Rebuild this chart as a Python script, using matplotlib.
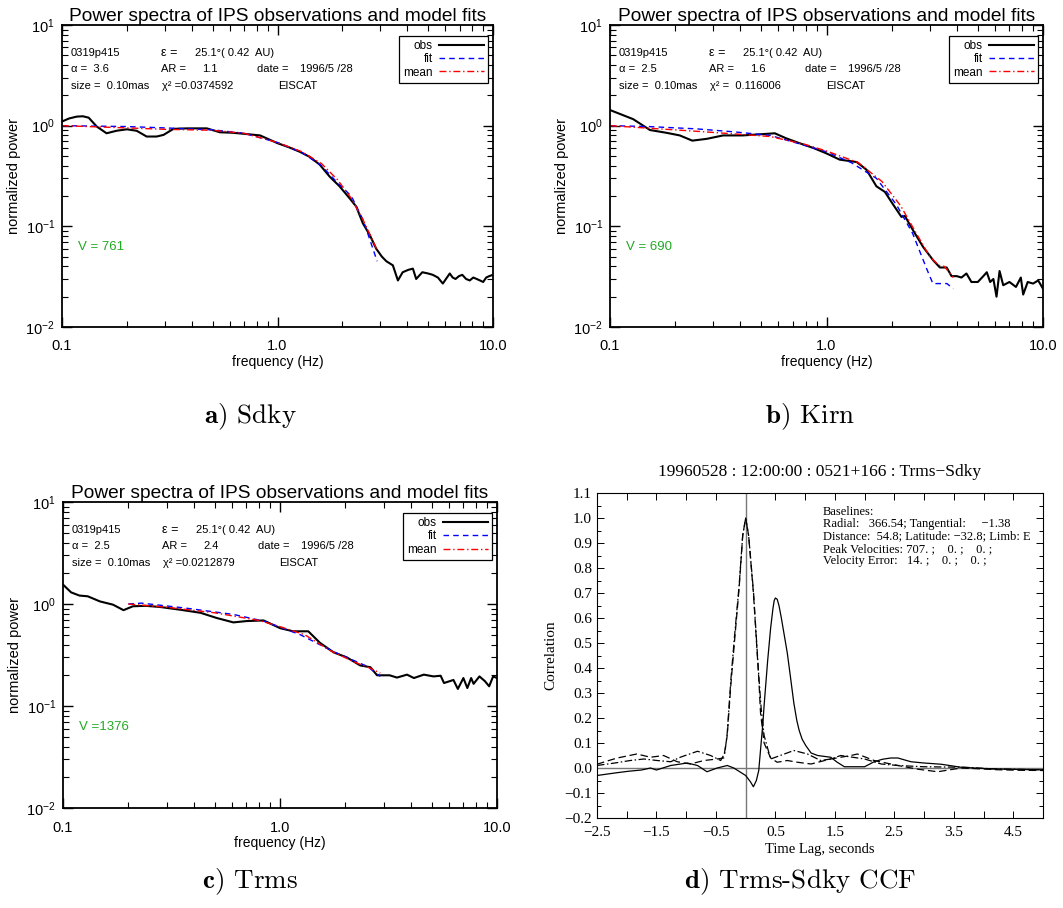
import matplotlib
matplotlib.use("Agg")
import matplotlib.pyplot as plt
from matplotlib.ticker import MultipleLocator, FixedLocator, NullFormatter, LogLocator

plt.rcParams['font.family'] = ['Liberation Sans', 'DejaVu Sans']
plt.rcParams['mathtext.fontset'] = 'cm'

# ---- power spectra data ----
fa_obs = [0.100, 0.108, 0.117, 0.125, 0.133, 0.145, 0.161, 0.179, 0.200, 0.222,
          0.247, 0.275, 0.296, 0.329, 0.380, 0.470, 0.540, 0.620, 0.700, 0.830,
          1.00, 1.13, 1.27, 1.41, 1.57, 1.75, 1.94, 2.16, 2.32, 2.49,
          2.68, 2.87, 3.05, 3.20, 3.43, 3.62, 3.81, 4.05, 4.25, 4.40,
          4.70, 5.00, 5.25, 5.55, 5.85, 6.05, 6.30, 6.50, 6.70, 6.95,
          7.20, 7.50, 7.80, 8.10, 8.40, 8.70, 9.00, 9.30, 9.60, 10.0]
pa_obs = [1.10, 1.18, 1.23, 1.24, 1.20, 0.98, 0.84, 0.89, 0.92, 0.89,
          0.78, 0.78, 0.81, 0.93, 0.94, 0.94, 0.86, 0.85, 0.83, 0.80,
          0.67, 0.61, 0.55, 0.49, 0.41, 0.31, 0.25, 0.19, 0.157, 0.107,
          0.082, 0.060, 0.050, 0.045, 0.041, 0.029, 0.035, 0.037, 0.038, 0.030,
          0.035, 0.034, 0.033, 0.031, 0.027, 0.030, 0.034, 0.031, 0.030, 0.032,
          0.033, 0.030, 0.029, 0.031, 0.030, 0.029, 0.028, 0.031, 0.032, 0.033]
fa_fit = [0.1, 0.2, 0.3, 0.5, 0.7, 1.0, 1.3, 1.6, 1.9, 2.2, 2.5, 2.9]
pa_fit = [1.0, 0.98, 0.95, 0.91, 0.84, 0.68, 0.54, 0.40, 0.27, 0.20, 0.115, 0.045]
fa_mean = [0.1, 0.2, 0.3, 0.5, 0.7, 1.0, 1.3, 1.6, 1.9, 2.2, 2.5, 2.9]
pa_mean = [1.0, 0.95, 0.92, 0.90, 0.84, 0.68, 0.55, 0.42, 0.29, 0.19, 0.115, 0.058]

fb_obs = [0.100, 0.128, 0.153, 0.182, 0.210, 0.240, 0.280, 0.333, 0.410, 0.490,
          0.577, 0.650, 0.750, 0.870, 1.00, 1.15, 1.38, 1.53, 1.70, 1.86,
          2.03, 2.22, 2.30, 2.52, 2.80, 3.11, 3.34, 3.59, 3.78, 4.00,
          4.20, 4.43, 4.67, 5.00, 5.30, 5.50, 5.70, 5.90, 6.10, 6.30,
          6.55, 7.00, 7.50, 7.90, 8.10, 8.50, 9.00, 9.50, 10.0]
pb_obs = [1.43, 1.16, 0.905, 0.85, 0.80, 0.71, 0.74, 0.80, 0.80, 0.82,
          0.84, 0.75, 0.67, 0.60, 0.53, 0.46, 0.435, 0.365, 0.25, 0.22,
          0.165, 0.124, 0.127, 0.090, 0.062, 0.046, 0.039, 0.039, 0.032, 0.032,
          0.031, 0.034, 0.028, 0.028, 0.032, 0.035, 0.028, 0.030, 0.020, 0.036,
          0.026, 0.028, 0.025, 0.031, 0.021, 0.028, 0.027, 0.029, 0.024]
fb_fit = [0.1, 0.15, 0.25, 0.37, 0.55, 0.75, 1.0, 1.3, 1.7, 2.1, 2.5, 2.9, 3.1, 3.6, 3.85]
pb_fit = [1.0, 0.98, 0.93, 0.87, 0.80, 0.66, 0.55, 0.43, 0.30, 0.165, 0.085, 0.038, 0.027, 0.027, 0.024]
fb_mean = [0.1, 0.25, 0.4, 0.55, 0.8, 1.0, 1.4, 1.8, 2.2, 2.6, 3.0, 3.3, 3.5, 3.85]
pb_mean = [1.0, 0.88, 0.82, 0.78, 0.65, 0.56, 0.43, 0.28, 0.16, 0.085, 0.05, 0.041, 0.040, 0.031]

fc_obs = [0.100, 0.109, 0.119, 0.130, 0.148, 0.170, 0.190, 0.210, 0.240, 0.280,
          0.345, 0.430, 0.510, 0.610, 0.700, 0.840, 1.00, 1.15, 1.35, 1.53,
          1.77, 2.03, 2.34, 2.61, 2.80, 3.20, 3.46, 3.85, 4.14, 4.60,
          5.10, 5.50, 5.70, 6.20, 6.30, 6.60, 7.00, 7.30, 7.60, 7.80,
          8.30, 8.80, 9.20, 9.60, 10.0]
pc_obs = [1.55, 1.30, 1.21, 1.19, 1.06, 0.985, 0.87, 0.95, 0.96, 0.935,
          0.88, 0.82, 0.73, 0.66, 0.68, 0.69, 0.58, 0.54, 0.54, 0.415,
          0.335, 0.30, 0.25, 0.24, 0.20, 0.20, 0.19, 0.203, 0.188, 0.203,
          0.195, 0.198, 0.168, 0.178, 0.18, 0.147, 0.188, 0.15, 0.188, 0.165,
          0.195, 0.175, 0.156, 0.195, 0.188]
fc_fit = [0.2, 0.23, 0.37, 0.61, 0.84, 1.24, 1.77, 2.52, 2.9]
pc_fit = [1.0, 1.02, 0.91, 0.79, 0.68, 0.50, 0.34, 0.245, 0.195]
fc_mean = [0.2, 0.3, 0.5, 0.8, 1.0, 1.3, 1.7, 2.2, 2.6, 2.9]
pc_mean = [1.0, 0.93, 0.82, 0.69, 0.60, 0.50, 0.35, 0.27, 0.235, 0.21]

# annotation values per panel a, b, c
alphas = ['3.6', '2.5', '2.5']
axial_ratios = ['1.1', '1.6', '2.4']
chi2s = ['=0.0374592', '=  0.116006', '=0.0212879']
velocities = ['V = 761', 'V = 690', 'V =1376']
captions = [r'$\mathbf{a)}$ Sdky', r'$\mathbf{b)}$ Kirn', r'$\mathbf{c)}$ Trms', r'$\mathbf{d)}$ Trms-Sdky CCF']

# ---- cross correlation data ----
lag_ccf = [-2.5, -2.2, -1.97, -1.75, -1.6, -1.5, -1.26, -0.98, -0.81, -0.65,
           -0.48, -0.31, -0.2, -0.1, 0.0, 0.08, 0.13, 0.18, 0.22, 0.26,
           0.29, 0.31, 0.34, 0.37, 0.42, 0.46, 0.48, 0.5, 0.53, 0.56,
           0.6, 0.65, 0.7, 0.75, 0.81, 0.86, 0.9, 0.95, 1.01, 1.1,
           1.21, 1.43, 1.54, 1.66, 2.0, 2.16, 2.3, 2.44, 2.56, 2.78,
           3.0, 3.29, 3.62, 4.0, 4.24, 4.6, 5.0]
ccf = [-0.03, -0.02, -0.013, -0.008, 0.0, -0.008, 0.01, 0.02, 0.01, -0.015,
       0.0, 0.01, 0.0, -0.015, -0.03, -0.055, -0.075, -0.05, -0.01, 0.10,
       0.18, 0.25, 0.34, 0.43, 0.56, 0.64, 0.67, 0.68, 0.675, 0.65,
       0.60, 0.53, 0.46, 0.37, 0.26, 0.19, 0.15, 0.115, 0.09, 0.06,
       0.05, 0.043, 0.023, 0.005, 0.005, 0.025, 0.035, 0.04, 0.04, 0.025,
       0.02, 0.015, 0.003, -0.002, -0.004, -0.006, -0.007]
lag_acf1 = [-2.5, -2.3, -2.16, -1.83, -1.6, -1.38, -1.15, -0.93, -0.7, -0.48,
            -0.37, -0.31, -0.25, -0.19, -0.11, -0.05, 0.0, 0.05, 0.13, 0.22,
            0.25, 0.31, 0.42, 0.53, 0.7, 0.87, 1.1, 1.43, 1.77, 1.88,
            2.16, 2.56, 2.9, 3.23, 3.62, 4.0, 4.24, 4.6, 5.0]
acf1 = [0.015, 0.03, 0.04, 0.056, 0.043, 0.05, 0.025, 0.016, 0.03, 0.036,
        0.04, 0.13, 0.33, 0.50, 0.72, 0.93, 1.0, 0.93, 0.70, 0.36,
        0.22, 0.10, 0.04, 0.023, 0.03, 0.023, 0.016, 0.036, 0.05, 0.056,
        0.03, 0.01, -0.005, -0.015, 0.0, -0.004, -0.007, -0.009, -0.01]
lag_acf2 = [-2.5, -2.2, -1.94, -1.71, -1.49, -1.26, -1.1, -0.81, -0.59, -0.42,
            -0.35, -0.31, -0.25, -0.19, -0.11, -0.05, 0.0, 0.05, 0.13, 0.22,
            0.26, 0.31, 0.42, 0.65, 0.81, 1.04, 1.26, 1.43, 1.6, 2.0,
            2.28, 2.56, 3.0, 3.68, 4.2, 5.0]
acf2 = [0.01, 0.02, 0.03, 0.036, 0.03, 0.025, 0.043, 0.067, 0.05, 0.03,
        0.06, 0.14, 0.35, 0.52, 0.73, 0.93, 1.0, 0.93, 0.71, 0.37,
        0.24, 0.13, 0.036, 0.056, 0.07, 0.056, 0.03, 0.036, 0.05, 0.036,
        0.016, 0.01, 0.005, 0.003, -0.004, -0.007]
baseline_lines = ['Baselines:',
                  'Radial:   366.54; Tangential:     \u22121.38',
                  'Distance:  54.8; Latitude: \u221232.8; Limb: E',
                  'Peak Velocities: 707. ;    0. ;    0. ;',
                  'Velocity Error:   14. ;    0. ;    0. ;']

W, H = 1063, 908
fig = plt.figure(figsize=(W / 100, H / 100), dpi=100)


def px_axes(left, top, right, bottom):
    return fig.add_axes([left / W, 1 - bottom / H, (right - left) / W, (bottom - top) / H])


def spectrum_panel(ax, f_obs, p_obs, f_fit, p_fit, f_mean, p_mean, i):
    ax.plot(f_obs, p_obs, color='black', lw=1.5, label='obs')
    ax.plot(f_fit, p_fit, color='blue', lw=1.0, ls=(0, (4, 3)), label='fit')
    ax.plot(f_mean, p_mean, color='red', lw=1.0, ls=(0, (5, 2, 1, 2)), label='mean')
    ax.set_xscale('log')
    ax.set_yscale('log')
    ax.set_xlim(0.1, 10)
    ax.set_ylim(0.01, 10)
    ax.set_xticks([0.1, 1, 10])
    ax.set_xticklabels(['0.1', '1.0', '10.0'])
    ax.xaxis.set_minor_locator(LogLocator(base=10, subs=range(2, 10)))
    ax.xaxis.set_minor_formatter(NullFormatter())
    ax.yaxis.set_major_locator(FixedLocator([0.01, 0.1, 1, 10]))
    ax.yaxis.set_minor_locator(LogLocator(base=10, subs=range(2, 10)))
    ax.yaxis.set_minor_formatter(NullFormatter())
    ax.tick_params(which='both', direction='in', top=True, right=True, labelsize=10.5)
    ax.tick_params(which='major', length=7, width=1.0)
    ax.tick_params(which='minor', length=4, width=0.8)
    ax.tick_params(axis='x', which='major', pad=9)
    ax.tick_params(axis='y', which='major', pad=5)
    for s in ax.spines.values():
        s.set_linewidth(1.3)
    ax.set_xlabel('frequency (Hz)', fontsize=10, labelpad=1)
    ax.set_ylabel('normalized power', fontsize=10.5, labelpad=3)
    ax.set_title('Power spectra of IPS observations and model fits', fontsize=13.8, pad=3)

    fs = 8
    tr = ax.transAxes
    bbox = ax.get_position()
    aw, ah = bbox.width * W, bbox.height * H

    def put(dx, dy, s, size=fs):
        ax.text(dx / aw, 1 - dy / ah, s, transform=tr, fontsize=size, va='center', ha='left')

    put(9, 28, '0319p415')
    put(99, 28, '\u03b5 =', 9)
    put(133, 28, '25.1\u00b0( 0.42  AU)')
    put(9, 44, '\u03b1 =  ' + alphas[i])
    put(99, 44, 'AR =')
    put(140, 44, axial_ratios[i])
    put(195, 44, 'date =')
    put(238, 44, '1996/5 /28')
    put(9, 61, 'size =  0.10mas')
    put(100, 61, '\u03c7\u00b2 ' + chi2s[i])
    put(216, 61, 'EISCAT')
    ax.text(16 / aw, 0.265, velocities[i], transform=tr, fontsize=9.5, color='#22aa22',
            va='center', ha='left')

    leg = ax.legend(loc='upper right', bbox_to_anchor=(0.988, 0.965), fontsize=8.5,
                    markerfirst=False, handlelength=3.8, labelspacing=0.12,
                    borderpad=0.35, handletextpad=0.5, borderaxespad=0,
                    fancybox=False, edgecolor='black', framealpha=1)
    leg.get_frame().set_linewidth(0.9)


ax_a = px_axes(62, 25, 493, 327)
spectrum_panel(ax_a, fa_obs, pa_obs, fa_fit, pa_fit, fa_mean, pa_mean, 0)
ax_b = px_axes(610, 25, 1043, 327)
spectrum_panel(ax_b, fb_obs, pb_obs, fb_fit, pb_fit, fb_mean, pb_mean, 1)
ax_c = px_axes(63, 502, 497, 808)
spectrum_panel(ax_c, fc_obs, pc_obs, fc_fit, pc_fit, fc_mean, pc_mean, 2)

# ---- panel d: cross correlation ----
serif = ['Liberation Serif', 'DejaVu Serif']
ax_d = px_axes(597, 493, 1043, 818)
ax_d.axvline(0, color='#777777', lw=1.0)
ax_d.axhline(0, color='#777777', lw=1.0)
ax_d.plot(lag_acf1, acf1, color='black', lw=0.9, ls=(0, (6, 3)))
ax_d.plot(lag_acf2, acf2, color='black', lw=0.9, ls=(0, (6, 2, 1.2, 2)))
ax_d.plot(lag_ccf, ccf, color='black', lw=0.9)
ax_d.set_xlim(-2.5, 5.0)
ax_d.set_ylim(-0.2, 1.1)
xt = [-2.5 + 0.5 * k for k in range(16)]
ax_d.set_xticks(xt)
ax_d.set_xticklabels([('%.1f' % v).replace('-', '\u2212') if k % 2 == 0 else ''
                      for k, v in enumerate(xt)])
yt = [-0.2 + 0.1 * k for k in range(14)]
ax_d.set_yticks(yt)
ax_d.set_yticklabels([('%.1f' % v).replace('-', '\u2212') for v in yt])
ax_d.yaxis.set_minor_locator(MultipleLocator(0.05))
ax_d.tick_params(which='both', direction='in', top=True, right=True, labelsize=11, width=0.7)
ax_d.tick_params(which='major', length=5)
ax_d.tick_params(which='minor', length=3)
ax_d.tick_params(axis='x', pad=6)
for lab in ax_d.get_xticklabels() + ax_d.get_yticklabels():
    lab.set_family(serif)
for s in ax_d.spines.values():
    s.set_linewidth(0.8)
ax_d.set_xlabel('Time Lag, seconds', fontsize=10.5, family=serif, labelpad=3)
ax_d.set_ylabel('Correlation', fontsize=11, family=serif, labelpad=5)
ax_d.set_title('19960528 : 12:00:00 : 0521+166 : Trms\u2212Sdky', fontsize=12.5,
               family=serif, pad=12)
for k, line in enumerate(baseline_lines):
    ax_d.text(0.507, 0.9415 - 0.0378 * k, line, transform=ax_d.transAxes, fontsize=9,
              family=serif, va='center', ha='left', clip_on=False)

# ---- captions ----
cap_pos = [(250, 417), (810, 417), (250, 882), (800, 882)]
for (cx, cy), cap in zip(cap_pos, captions):
    fig.text(cx / W, 1 - cy / H, cap, fontsize=19.5, family='cmr10', ha='center', va='center')

fig.savefig('out.png', dpi=100)
